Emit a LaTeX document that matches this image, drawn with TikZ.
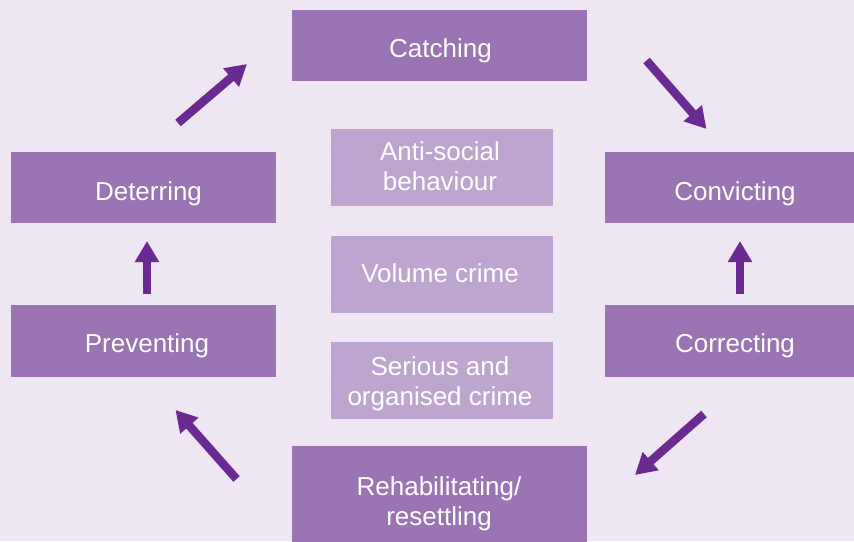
\documentclass[tikz,border=0pt]{standalone}
\usepackage{fontspec}
\setmainfont{Liberation Sans}
\usetikzlibrary{arrows.meta}
\definecolor{bgc}{HTML}{EEE6F3}
\definecolor{darkbox}{HTML}{9A74B3}
\definecolor{lightbox}{HTML}{BEA5D0}
\definecolor{arrowc}{HTML}{6B2A91}
\tikzset{
  stagebox/.style={rectangle, fill=darkbox, draw=none, inner sep=0pt},
  crimebox/.style={rectangle, fill=lightbox, draw=none, inner sep=0pt, minimum width=222pt, minimum height=77pt},
  lbl/.style={anchor=base, text=white, inner sep=0pt, font=\fontsize{26}{30}\selectfont},
  flow/.style={draw=arrowc, line width=8.5pt, -{Triangle[width=23pt,length=21pt]}}
}
\begin{document}
\begin{tikzpicture}[x=1pt,y=-1pt]
\useasboundingbox (0,0) rectangle (854,541);
\clip (0,0) rectangle (854,541);
\fill[bgc] (0,0) rectangle (854,541);
% stage boxes
\node[stagebox, minimum width=295pt, minimum height=71pt] (catch) at (439.5,45.5) {};
\node[stagebox, minimum width=265pt, minimum height=71pt] (det) at (143.5,187.5) {};
\node[stagebox, minimum width=260pt, minimum height=71pt] (conv) at (735,187.5) {};
\node[stagebox, minimum width=265pt, minimum height=72pt] (prev) at (143.5,341) {};
\node[stagebox, minimum width=260pt, minimum height=72pt] (corr) at (735,341) {};
\node[stagebox, minimum width=295pt, minimum height=110pt] (rehab) at (439.5,501) {};
% crime boxes
\node[crimebox] (asb) at (442,167.5) {};
\node[crimebox] (vol) at (442,274.5) {};
\node[crimebox] (ser) at (442,380.5) {};
% labels
\node[lbl] (tcatch) at (440.5,57.5) {Catching};
\node[lbl] (tdet) at (148.5,200) {Deterring};
\node[lbl] (tconv) at (735,200) {Convicting};
\node[lbl] (tprev) at (147,352) {Preventing};
\node[lbl] (tcorr) at (735,352) {Correcting};
\node[lbl] (tasb1) at (440,160.7) {Anti-social};
\node[lbl] (tasb2) at (440,190) {behaviour};
\node[lbl] (tvol) at (440,282.7) {Volume crime};
\node[lbl] (tser1) at (440,375) {Serious and};
\node[lbl] (tser2) at (440,405) {organised crime};
\node[lbl] (treh1) at (439,495) {Rehabilitating/};
\node[lbl] (treh2) at (439,525) {resettling};
% arrow end points
\coordinate (a1s) at (178,123); \coordinate (a1e) at (247,64);
\coordinate (a2s) at (646.5,60.5); \coordinate (a2e) at (706.5,129);
\coordinate (a3s) at (740,294); \coordinate (a3e) at (740,241);
\coordinate (a4s) at (704,414); \coordinate (a4e) at (635,475);
\coordinate (a5s) at (236.5,479); \coordinate (a5e) at (175.5,410);
\coordinate (a6s) at (147,294); \coordinate (a6e) at (147,241);
\draw[flow] (a1s) -- (a1e);
\draw[flow] (a2s) -- (a2e);
\draw[flow] (a3s) -- (a3e);
\draw[flow] (a4s) -- (a4e);
\draw[flow] (a5s) -- (a5e);
\draw[flow] (a6s) -- (a6e);
\end{tikzpicture}
\end{document}
